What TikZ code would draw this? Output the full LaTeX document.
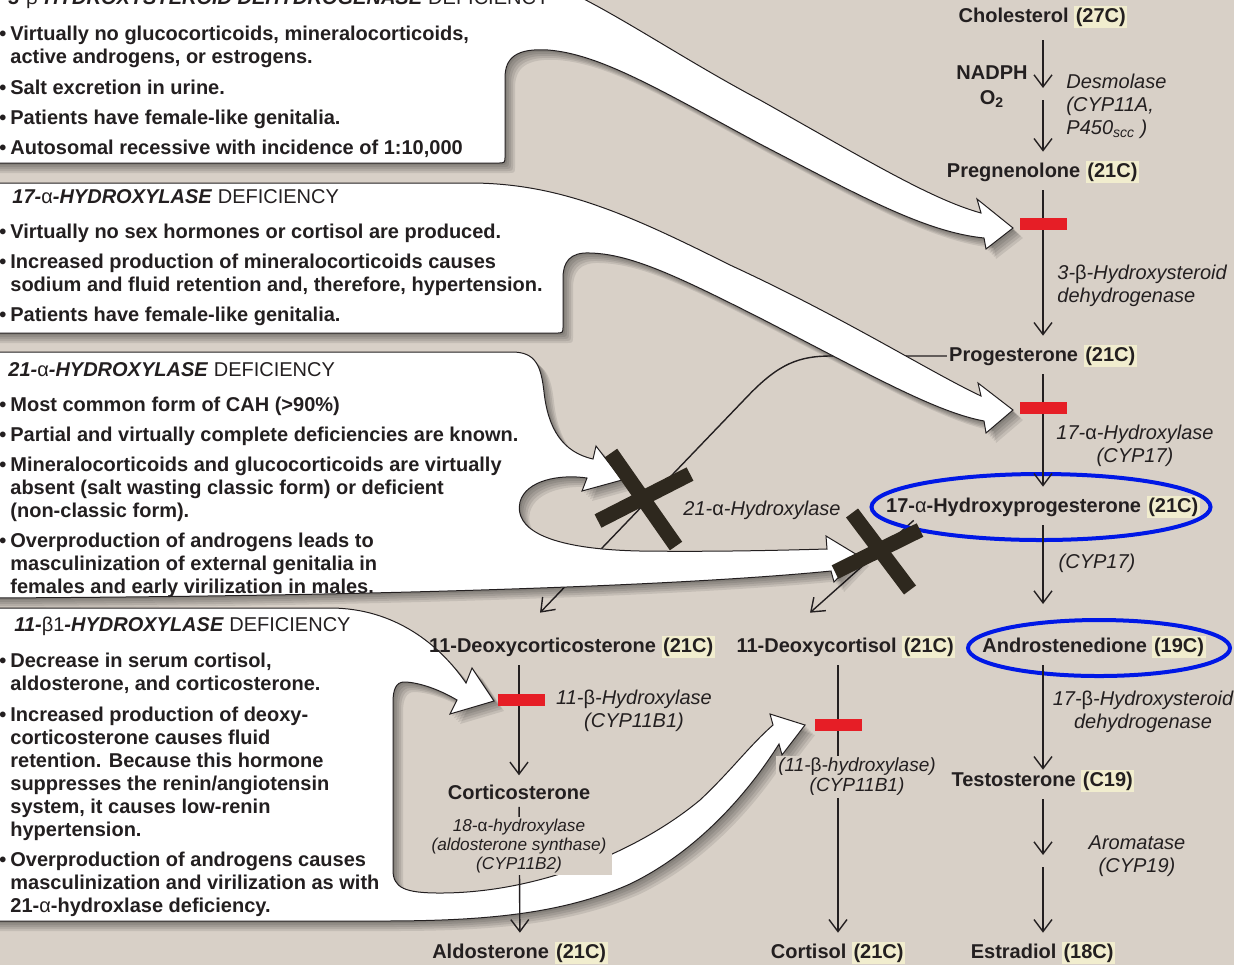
\documentclass[tikz,border=0pt]{standalone}
\usepackage{fontspec}
\setmainfont{Liberation Sans}
\usepackage{tikz}
\usetikzlibrary{arrows.meta, shapes.geometric}

\definecolor{paper}{RGB}{216,208,199}
\definecolor{ink}{RGB}{35,31,32}
\definecolor{blockred}{RGB}{230,30,38}
\definecolor{crossink}{RGB}{46,40,30}
\definecolor{glow}{RGB}{241,237,206}
\definecolor{ringblue}{RGB}{0,24,230}

\pgfdeclarelayer{backdrop}
\pgfdeclarelayer{links}
\pgfdeclarelayer{callouts}
\pgfsetlayers{backdrop,links,callouts,main}

\tikzset{every node/.append style={font=\fontsize{10}{11.5}\selectfont, text=ink}}
\tikzset{
  cmpd/.style={font=\fontsize{10}{11.5}\selectfont\bfseries, inner sep=1pt},
  enz/.style={font=\fontsize{10}{11.5}\selectfont\itshape, align=center, inner sep=1pt},
  note/.style={font=\fontsize{10}{11.5}\selectfont\bfseries, align=left, anchor=north west, inner sep=0pt},
  head/.style={font=\fontsize{10}{11.5}\selectfont\bfseries, anchor=west, inner sep=0pt},
  flow/.style={->, draw=ink, line width=0.7pt, shorten <=2.5pt, shorten >=3.5pt},
  callout/.style={fill=white, draw=ink, line width=0.5pt},
  shade/.style={fill=black, opacity=0.09},
  blockbar/.style={fill=blockred, minimum width=23.5pt, minimum height=6pt, inner sep=0pt},
  ring/.style={ellipse, draw=ringblue, line width=2pt, inner sep=0pt},
  cross/.style={draw=crossink, line width=7.5pt},
}
\newcommand\carb[1]{{\setlength\fboxsep{0.8pt}\colorbox{glow}{#1}}}
\newcommand\grk[1]{{\mdseries\upshape #1}}
\newcommand\itm{\llap{\textbullet\hspace{2pt}}}

% outlines of the four white callouts (pixel units, y down)
\newcommand\calloutA{(-12,-40) -- (470,-40)
  .. controls (560,-30) and (640,36) .. (760,100)
  .. controls (860,156) and (930,199) .. (981,213)
  -- (977,199) -- (1013,228) -- (986,249) -- (984,238)
  .. controls (925,232) and (860,196) .. (760,144)
  .. controls (660,90) and (600,54) .. (548,50)
  .. controls (516,48) and (505,58) .. (505,78)
  -- (505,156) .. controls (505,163) .. (498,163)
  -- (-12,163) -- cycle}
\newcommand\calloutB{(-12,183) -- (470,183)
  .. controls (560,183) and (630,215) .. (730,265)
  .. controls (845,318) and (930,372) .. (981,396)
  -- (978,383) -- (1013,410) -- (986,433) -- (984,421)
  .. controls (935,412) and (865,372) .. (760,318)
  .. controls (675,275) and (630,254) .. (590,253)
  .. controls (570,252) and (563,262) .. (563,278)
  -- (563,326) .. controls (563,333) .. (556,333)
  -- (-12,333) -- cycle}
\newcommand\calloutC{(-12,352) -- (512,352)
  .. controls (536,352) and (541,366) .. (544,392)
  .. controls (548,428) and (562,452) .. (593,459)
  -- (596,446) -- (622,480) -- (582,491) -- (587,478)
  .. controls (560,474) and (526,480) .. (520,502)
  .. controls (514,528) and (545,549) .. (640,551)
  .. controls (720,552) and (790,550) .. (827,549)
  -- (826,536) -- (859,556) -- (834,582) -- (831,571)
  .. controls (700,584) and (420,596) .. (-12,598) -- cycle}
\newcommand\calloutD{(-12,608) -- (330,608)
  .. controls (395,608) and (440,645) .. (466,683)
  -- (472,668) -- (494,701) -- (450,714) -- (457,700)
  .. controls (435,687) and (415,682) .. (404,682)
  .. controls (396,682) and (393,690) .. (393,702)
  -- (393,870) .. controls (393,888) and (405,893) .. (440,893)
  .. controls (540,893) and (640,850) .. (700,800)
  .. controls (730,772) and (750,745) .. (773,725)
  -- (770,714) -- (805,725) -- (782,755) -- (779,744)
  .. controls (750,790) and (700,850) .. (630,884)
  .. controls (560,915) and (480,921) .. (380,921)
  -- (-12,921) -- cycle}

\begin{document}
\begin{tikzpicture}[x=0.5pt, y=-0.5pt, >={Straight Barb[length=6pt,width=9pt]}]
  \path[use as bounding box] (0,0) rectangle (1234,965);
  \begin{pgfonlayer}{backdrop}
    \fill[paper] (0,0) rectangle (1234,965);
  \end{pgfonlayer}

  % steroid pathway
  \node[cmpd] (chol) at (1043,17) {Cholesterol \carb{(27C)}};
  \node[cmpd] (preg) at (1043,172) {Pregnenolone \carb{(21C)}};
  \node[cmpd] (prog) at (1043,356) {Progesterone \carb{(21C)}};
  \node[cmpd] (ohp) at (1043,507) {17-\grk{α}-Hydroxyprogesterone \carb{(21C)}};
  \node[cmpd] (andro) at (1094,647) {Androstenedione \carb{(19C)}};
  \node[cmpd] (testo) at (1043,781) {Testosterone \carb{(C19)}};
  \node[cmpd] (estra) at (1043,953) {Estradiol \carb{(18C)}};
  \node[cmpd] (doc) at (572,647) {11-Deoxycorticosterone \carb{(21C)}};
  \node[cmpd] (dcort) at (846,647) {11-Deoxycortisol \carb{(21C)}};
  \node[cmpd] (cortico) at (519,792) {Corticosterone};
  \node[cmpd] (aldo) at (520,953) {Aldosterone \carb{(21C)}};
  \node[cmpd] (cortisol) at (838,953) {Cortisol \carb{(21C)}};
  \coordinate (desmo) at (1043,95);
  \coordinate (arom) at (1043,862);

  \node[ring, minimum width=169.5pt, minimum height=33pt] (ohp-ring) at (1041,507) {};
  \node[ring, minimum width=131pt, minimum height=28pt] (andro-ring) at (1099,648) {};

  % side branches, under the callouts
  \begin{pgfonlayer}{links}
    \draw[->, draw=ink, line width=0.7pt] (prog.west) -- ++(-116,0)
      .. controls +(-32,0) and +(30,-31) .. ++(-82,39)
      -- ([shift={(-16pt,10.5pt)}]doc.north);
    \draw[->, draw=ink, line width=0.7pt] ([xshift=15pt]ohp.south west)
      -- ([shift={(-18pt,10.5pt)}]dcort.north);
  \end{pgfonlayer}

  % callouts
  \begin{pgfonlayer}{callouts}
    \foreach \s in {2,4,6,8,10}{
      \fill[shade, shift={(\s,\s)}] \calloutA;
      \fill[shade, shift={(\s,\s)}] \calloutB;
      \fill[shade, shift={(\s,\s)}] \calloutC;
      \fill[shade, shift={(\s,\s)}] \calloutD;
    }
    \path[callout] \calloutA;
    \path[callout] \calloutB;
    \path[callout] \calloutC;
    \path[callout] \calloutD;
  \end{pgfonlayer}

  \draw[flow, shorten <=5pt] (chol) -- (desmo);
  \draw[flow] (desmo) -- (preg);
  \draw[flow] (preg) -- (prog);
  \draw[flow] (prog) -- (ohp);
  \draw[flow, shorten >=7pt] (ohp) -- (ohp |- andro-ring.north);
  \draw[flow, shorten >=-1pt] (andro.south -| testo) -- (testo);
  \draw[flow] (testo) -- (arom);
  \draw[flow] (arom) -- (estra);
  \draw[flow] (doc.south -| cortico) -- (cortico);
  \draw[flow] (cortico) -- (aldo);
  \draw[flow] (dcort.south -| cortisol) -- (cortisol);

  \node[blockbar] (bar-3b) at (1043,224) {};
  \node[blockbar] (bar-17a) at (1043,408) {};
  \node[blockbar] (bar-11b) at (521,700) {};
  \node[blockbar] (bar-11b-c) at (838,725) {};

  \node[cmpd, align=center] (nadph) at (992,87) {NADPH\\[1pt]O\textsubscript{2}};
  \node[enz, align=left, anchor=west] (desmolase) at (1064,106) {Desmolase\\(CYP11A,\\P450\textsubscript{scc} )};
  \node[enz, align=left, anchor=west] (hsd3b) at (1055,286) {3-\grk{β}-Hydroxysteroid\\dehydrogenase};
  \node[enz] (cyp17a) at (1135,446) {17-\grk{α}-Hydroxylase\\(CYP17)};
  \node[enz] (cyp17b) at (1097,563) {(CYP17)};
  \node[enz] (hsd17b) at (1143,712) {17-\grk{β}-Hydroxysteroid\\dehydrogenase};
  \node[enz] (cyp19) at (1137,856) {Aromatase\\(CYP19)};
  \node[enz] (cyp21) at (762,510) {21-\grk{α}-Hydroxylase};
  \node[enz] (cyp11b1) at (634,711) {11-\grk{β}-Hydroxylase\\(CYP11B1)};
  \node[enz, fill=paper, font=\fontsize{9.5}{10}\selectfont\itshape] (cyp11b1-c) at (857,777) {(11-\grk{β}-hydroxylase)\\(CYP11B1)};
  \node[enz, fill=paper, font=\fontsize{8.6}{9.3}\selectfont\itshape, inner xsep=3pt] (cyp11b2) at (519,846) {18-\grk{α}-hydroxylase\\(aldosterone synthase)\\(CYP11B2)};

  % blocked steps
  \draw[cross] (611,453) -- (676,546);
  \draw[cross] (598,521) -- (690,474);
  \draw[cross] (852,513) -- (910,590);
  \draw[cross] (835,572) -- (920,530);

  % callout texts
  \node[head] (t3b) at (8,-1) {\textit{3-}\grk{β}\textit{-HYDROXYSTEROID DEHYDROGENASE} {\mdseries DEFICIENCY}};
  \node[note] (n3b) at (10,26) {\itm Virtually no glucocorticoids, mineralocorticoids,\\
    active androgens, or estrogens.\\[3.75pt]
    \itm Salt excretion in urine.\\[3.5pt]
    \itm Patients have female-like genitalia.\\[3.5pt]
    \itm Autosomal recessive with incidence of 1:10,000};

  \node[head] (t17a) at (12,197) {\textit{17-}\grk{α}\textit{-HYDROXYLASE} {\mdseries DEFICIENCY}};
  \node[note] (n17a) at (10,224) {\itm Virtually no sex hormones or cortisol are produced.\\[3.5pt]
    \itm Increased production of mineralocorticoids causes\\
    sodium and fluid retention and, therefore, hypertension.\\[3.5pt]
    \itm Patients have female-like genitalia.};

  \node[head] (t21a) at (8,370) {\textit{21-}\grk{α}\textit{-HYDROXYLASE} {\mdseries DEFICIENCY}};
  \node[note] (n21a) at (10,397) {\itm Most common form of CAH (>90\%)\\[3.5pt]
    \itm Partial and virtually complete deficiencies are known.\\[3.5pt]
    \itm Mineralocorticoids and glucocorticoids are virtually\\
    absent (salt wasting classic form) or deficient\\
    (non-classic form).\\[3.5pt]
    \itm Overproduction of androgens leads to\\
    masculinization of external genitalia in\\
    females and early virilization in males.};

  \node[head] (t11b) at (14,626) {\textit{11-}\grk{β1}\textit{-HYDROXYLASE} {\mdseries DEFICIENCY}};
  \node[note] (n11b) at (10,653) {\itm Decrease in serum cortisol,\\
    aldosterone, and corticosterone.\\[3.75pt]
    \itm Increased production of deoxy-\\
    corticosterone causes fluid\\
    retention. Because this hormone\\
    suppresses the renin/angiotensin\\
    system, it causes low-renin\\
    hypertension.\\[3.75pt]
    \itm Overproduction of androgens causes\\
    masculinization and virilization as with\\
    21-\grk{α}-hydroxlase deficiency.};
\end{tikzpicture}
\end{document}
